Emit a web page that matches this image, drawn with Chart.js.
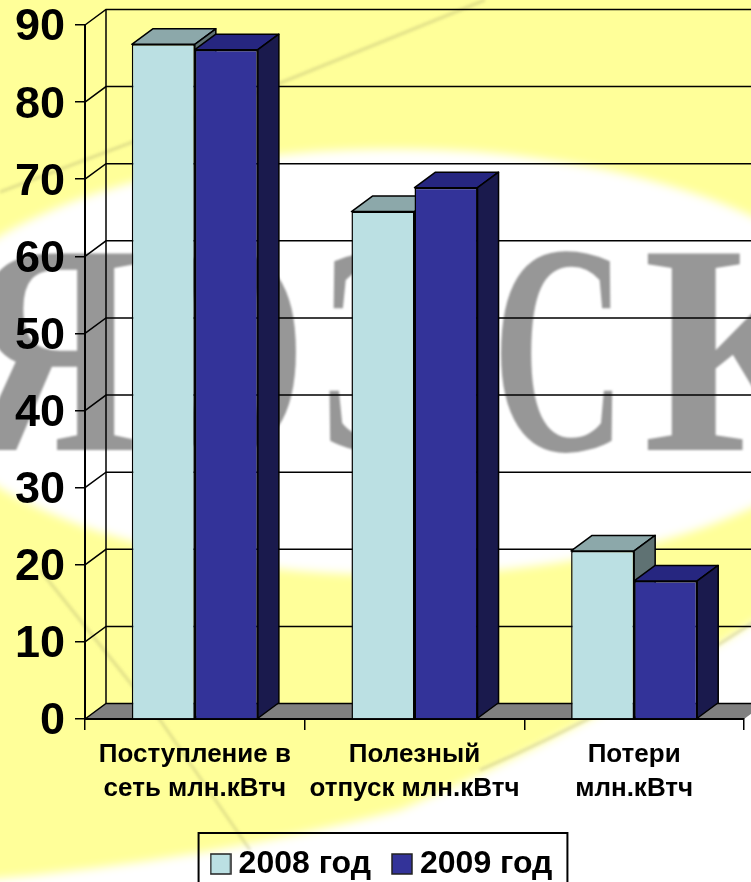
<!DOCTYPE html>
<html><head><meta charset="utf-8">
<style>html,body{margin:0;padding:0;width:751px;height:882px;overflow:hidden;background:#FFFF99}canvas{display:block}</style>
<script src="https://cdn.jsdelivr.net/npm/chart.js@4"></script>
</head><body>
<canvas id="c" width="765" height="890"></canvas>
<script>
const categories = [['Поступление в','сеть млн.кВтч'],['Полезный','отпуск млн.кВтч'],['Потери','млн.кВтч']];
const seriesNames = ['2008 год','2009 год'];
const values2008 = [87.5, 65.8, 21.8];
const values2009 = [86.8, 68.9, 17.9];
const axisMax = 90, axisStep = 10;
const watermark = [['Я',-35,0.8],['О',145,0.69],['Э',315,0.7],['С',492,0.62],['К',643,0.95]];
const FONT='"Liberation Sans",Arial,sans-serif';
const DX=21, DY=15.5;
const fills=['#BBE0E3','#333399'];
const faces=[{top:'#8CA8AA',side:'#5F7273'},{top:'#262680',side:'#1A1A4D'}];
const swatches=fills.map(f=>{const s=document.createElement('canvas');s.width=22;s.height=22;const x=s.getContext('2d');x.fillStyle=f;x.fillRect(1,1,20,20);x.strokeStyle='#222';x.lineWidth=1.5;x.strokeRect(1,1,20,20);return s;});

const scene={id:'scene',
 afterLayout(ch){ch.scales.y.left=0;},
 beforeDraw(ch){
  const c=ch.ctx,W=ch.width,H=ch.height,a=ch.chartArea,ys=ch.scales.y;
  c.save();
  c.fillStyle='#FFFF99';c.fillRect(0,0,W,H);
  c.filter='blur(5px)';c.fillStyle='#FFFFFF';
  c.beginPath();c.ellipse(395,362,490,213,0,0,Math.PI*2);c.fill();
  c.beginPath();c.moveTo(-20,880);c.quadraticCurveTo(200,862,400,810);c.quadraticCurveTo(590,730,780,605);c.lineTo(780,900);c.lineTo(-20,900);c.closePath();c.fill();
  c.filter='blur(1.5px)';c.strokeStyle='rgba(170,165,110,0.35)';c.lineWidth=3;
  c.beginPath();c.moveTo(0,192);c.lineTo(130,143);c.lineTo(300,75);c.lineTo(485,0);c.stroke();
  c.beginPath();c.moveTo(40,570);c.lineTo(160,720);c.lineTo(250,850);c.stroke();
  c.beginPath();c.moveTo(480,770);c.quadraticCurveTo(620,710,760,618);c.stroke();
  c.filter='blur(1px)';c.fillStyle='#979797';c.font='bold 300px "Liberation Serif",serif';c.textBaseline='alphabetic';
  watermark.forEach(([t,x,s])=>{c.save();c.translate(x,450);c.scale(s,1);c.fillText(t,0,0);c.restore();});
  c.filter='none';
  const y0=ys.getPixelForValue(0);
  c.fillStyle='#808080';c.beginPath();c.moveTo(a.left,y0);c.lineTo(a.left+DX,y0-DY);c.lineTo(a.right+DX,y0-DY);c.lineTo(a.right,y0);c.closePath();c.fill();
  c.strokeStyle='#000';c.lineWidth=1.5;
  for(let v=0;v<=axisMax;v+=axisStep){
   const y=ys.getPixelForValue(v);
   c.beginPath();c.moveTo(a.left,y);c.lineTo(a.left+DX,y-DY);c.lineTo(a.right+DX,y-DY);c.stroke();
  }
  c.beginPath();c.moveTo(a.left+DX,ys.getPixelForValue(axisMax)-DY);c.lineTo(a.left+DX,y0-DY);c.stroke();
  c.restore();
 },
 beforeDatasetsDraw(ch){
  const c=ch.ctx;
  c.save();c.strokeStyle='#000';c.lineWidth=1.5;c.lineJoin='round';
  ch.data.datasets.forEach((d,i)=>{
   const f=faces[i];
   ch.getDatasetMeta(i).data.forEach(b=>{
    const l=b.x-b.width/2,r=b.x+b.width/2,t=b.y,bs=b.base;
    c.fillStyle=f.top;c.beginPath();c.moveTo(l,t);c.lineTo(l+DX,t-DY);c.lineTo(r+DX,t-DY);c.lineTo(r,t);c.closePath();c.fill();c.stroke();
    c.fillStyle=f.side;c.beginPath();c.moveTo(r,t);c.lineTo(r+DX,t-DY);c.lineTo(r+DX,bs-DY);c.lineTo(r,bs);c.closePath();c.fill();c.stroke();
   });
  });
  c.restore();
 },
 afterDraw(ch){
  const c=ch.ctx,h=ch.legend.legendHitBoxes;if(!h||!h.length)return;
  const last=h[h.length-1];
  c.save();c.strokeStyle='#000';c.lineWidth=2;
  const L=h[0].left-20,R=last.left+last.width+15;
  c.strokeRect(L,h[0].top-15,R-L,100);
  c.restore();
 }
};

new Chart(document.getElementById('c'),{
 type:'bar',
 data:{labels:categories,datasets:[
  {label:seriesNames[0],data:values2008,backgroundColor:fills[0],borderColor:'#000',borderWidth:1.5},
  {label:seriesNames[1],data:values2009,backgroundColor:fills[1],borderColor:'#000',borderWidth:1.5}
 ]},
 plugins:[scene],
 options:{
  responsive:false,animation:false,devicePixelRatio:1,
  layout:{padding:{top:25,right:21,left:27,bottom:0}},
  datasets:{bar:{categoryPercentage:0.574,barPercentage:1}},
  plugins:{
   tooltip:{enabled:false},
   legend:{position:'bottom',padding:0,
    labels:{usePointStyle:true,pointStyleWidth:4,boxHeight:20,padding:29,color:'#000',font:{family:FONT,weight:'bold',size:32},
     generateLabels:ch=>Chart.defaults.plugins.legend.labels.generateLabels(ch).map((l,i)=>({...l,pointStyle:swatches[i]}))}}
  },
  scales:{
   x:{afterFit(s){s.height=100;},
    grid:{offset:true,drawOnChartArea:false,drawTicks:true,tickLength:11,color:'#000',lineWidth:1.5},
    border:{display:true,color:'#000',width:2},
    ticks:{color:'#000',maxRotation:0,autoSkip:false,padding:8,font:{family:FONT,weight:'bold',size:26,lineHeight:1.31}}},
   y:{min:0,max:axisMax,afterFit(s){s.width=58;s.paddingTop=0;s.paddingBottom=0;},
    grid:{drawOnChartArea:false,drawTicks:true,tickLength:10,color:'#000',lineWidth:1.5},
    border:{display:true,color:'#000',width:2},
    ticks:{stepSize:axisStep,color:'#000',padding:10,labelOffset:3,font:{family:FONT,weight:'bold',size:45}}}
  }
 }
});
</script>
</body></html>
